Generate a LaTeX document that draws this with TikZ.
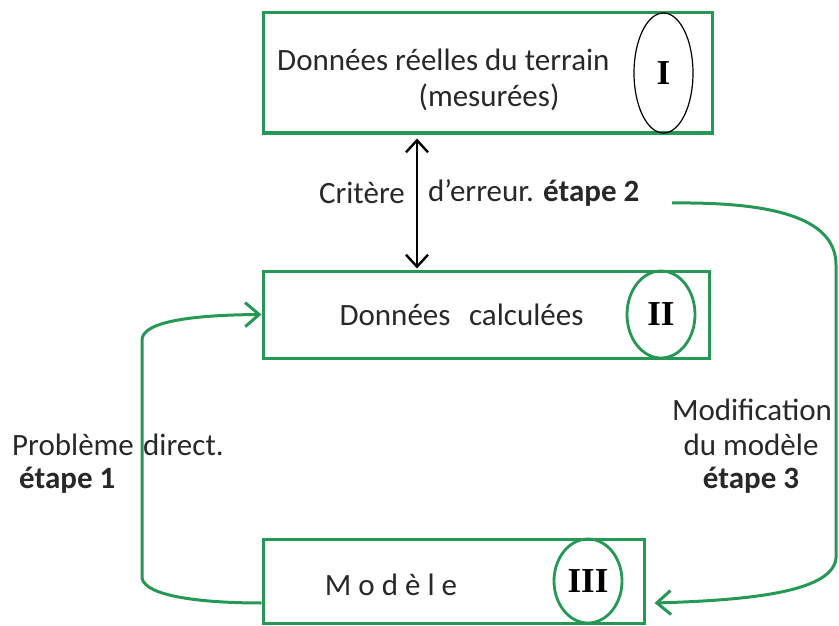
\documentclass[tikz,border=0pt]{standalone}
\usepackage{fontspec}
\setmainfont{Carlito}
\newfontfamily\romfont{Liberation Serif}
\usepackage{tikz}
\usetikzlibrary{arrows.meta,shapes,positioning}
\definecolor{vert}{RGB}{38,152,86}
\definecolor{texte}{RGB}{40,40,40}

\begin{document}
\begin{tikzpicture}[x=1pt,y=-1pt,
  boite/.style={draw=vert,line width=3pt,inner sep=0pt},
  ovale/.style={ellipse,draw=vert,line width=2.8pt,inner sep=0pt,font=\fontsize{35}{40}\selectfont\romfont\bfseries,text=black},
  txt/.style={inner sep=0pt,text=texte,font=\fontsize{31}{37}\selectfont},
  fleche/.style={line width=2.4pt,{Straight Barb[length=12pt,width=22pt]}-{Straight Barb[length=12pt,width=22pt]}},
  vfleche/.style={vert,line width=3pt,-{Straight Barb[length=14pt,width=24pt]}}]
\useasboundingbox (0,0) rectangle (839,626);
\node[boite,minimum width=449pt,minimum height=120pt] (reel) at (487.5,73) {};
\node[boite,minimum width=446pt,minimum height=87pt] (calc) at (486,314.5) {};
\node[boite,minimum width=381pt,minimum height=84pt] (modele) at (453.5,581) {};
\node[ovale,draw=black,line width=1.2pt,minimum width=59pt,minimum height=120pt] (n1) at (663.5,73) {I};
\node[ovale,minimum width=68pt,minimum height=87pt] (n2) at (661,314.5) {II};
\node[ovale,minimum width=68pt,minimum height=84pt] (n3) at (588,581) {III};
\node[txt,anchor=west] (t1) at (277,60) {Données réelles du terrain};
\node[txt] (t2) at (489,97) {(mesurées)};
\node[txt,anchor=east] (crit1) at (405,193) {Critère};
\node[txt,anchor=west] (crit2) at (428,193) {d’erreur. \textbf{étape 2}};
\node[txt] (t3) at (461.5,315) {Données\hspace{0.6em}calculées};
\node[txt] (t4) at (391,585) {M o d è l e};
\node[txt,anchor=west] (t5) at (12,445) {Problème\hspace{0.3em}direct.};
\node[txt,anchor=west] (t6) at (19,480) {\textbf{étape 1}};
\node[txt] (t7) at (752,410) {Modification};
\node[txt] (t8) at (751,445) {du modèle};
\node[txt] (t9) at (751,480) {\textbf{étape 3}};
\coordinate (fl) at (417,200);
\coordinate (dep) at (672,203);
\draw[fleche,shorten <=4pt,shorten >=1pt] (reel.south -| fl) -- (calc.north -| fl);
\draw[vfleche] ([yshift=-22pt]modele.west) .. controls (200,603) and (145,596) .. (142,578) -- (142,340) .. controls (142,322) and (190,315) .. (calc.west);
\draw[vfleche] (dep) .. controls (765,202) and (836,215) .. (836,265) -- (836,558) .. controls (833,590) and (760,600) .. ([xshift=9pt,yshift=-22pt]modele.east);
\end{tikzpicture}
\end{document}
